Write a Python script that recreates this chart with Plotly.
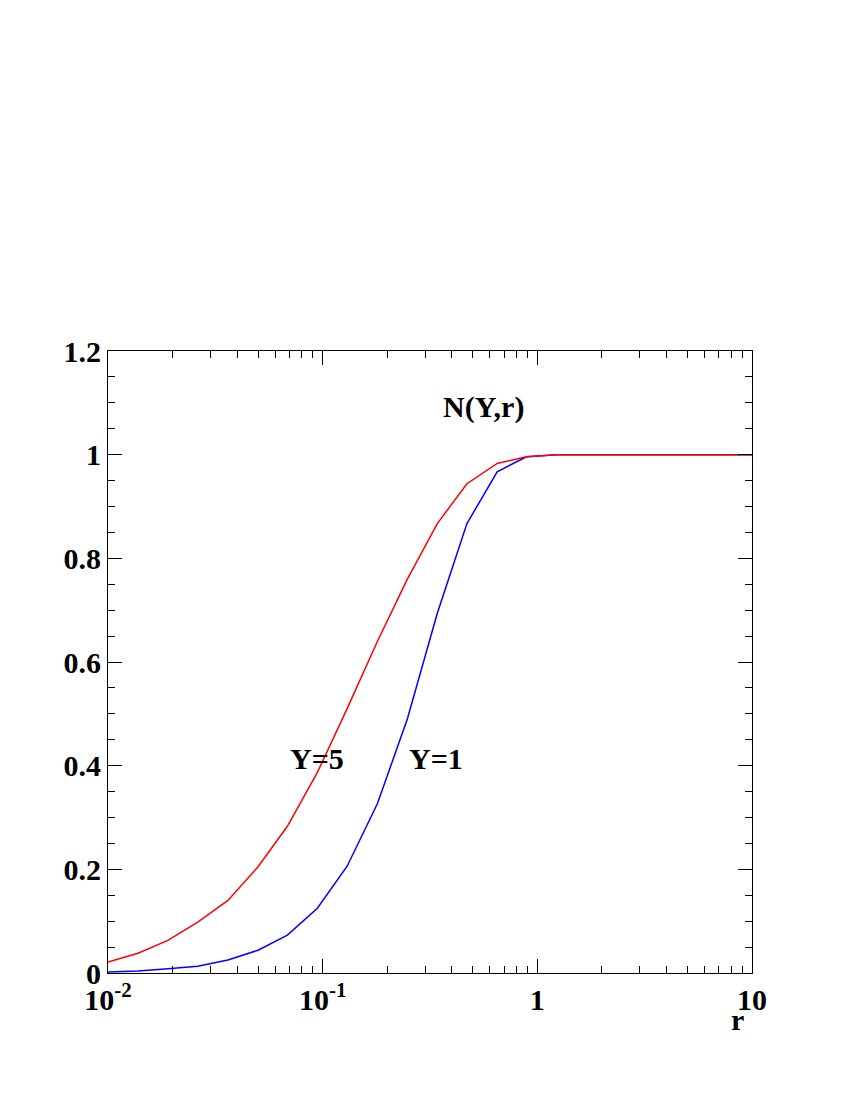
import plotly.graph_objects as go

r_vals = [0.01, 0.0138, 0.019, 0.0262, 0.0362, 0.05, 0.0685, 0.0945, 0.13, 0.18, 0.248, 0.342, 0.47, 0.65, 0.89, 1.23, 2, 4, 10]
n_y5 = [0.021, 0.038, 0.063, 0.098, 0.14, 0.205, 0.283, 0.387, 0.51, 0.64, 0.76, 0.867, 0.944, 0.983, 0.996, 1.0, 1.0, 1.0, 1.0]
n_y1 = [0.002, 0.004, 0.008, 0.013, 0.025, 0.044, 0.073, 0.125, 0.206, 0.327, 0.49, 0.694, 0.867, 0.967, 0.996, 1.0, 1.0, 1.0, 1.0]

font = dict(family="Liberation Serif", size=30, color="black")

fig = go.Figure()
fig.add_trace(go.Scatter(x=r_vals, y=n_y1, mode="lines", line=dict(color="blue", width=1.5)))
fig.add_trace(go.Scatter(x=r_vals, y=n_y5, mode="lines", line=dict(color="red", width=1.5)))

# positions in paper coords (plot area 107..752 x, 349..973 y)
fig.add_annotation(x=0.51, y=0.345, xref="paper", yref="paper", text="<b>Y=1</b>", showarrow=False, font=font)
fig.add_annotation(x=0.28, y=0.345, xref="paper", yref="paper", text="<b>Y=5</b>", showarrow=False, font=font)
fig.add_annotation(x=0.583, y=0.94, xref="paper", yref="paper", text="<b>N(Y,r)</b>", showarrow=False, font=font)
fig.add_annotation(x=0.99, y=-0.105, xref="paper", yref="paper", text="<b>r</b>", showarrow=False, font=font)

fig.update_xaxes(type="log", range=[-2, 1], showgrid=False, zeroline=False,
                 showline=True, linecolor="black", linewidth=1, mirror="allticks",
                 ticks="inside", ticklen=14, tickcolor="black",
                 tickvals=[0.01, 0.1, 1, 10],
                 ticktext=["<b>10<sup>-2</sup></b>", "<b>10<sup>-1</sup></b>", "<b>1</b>", "<b>10</b>"],
                 minor=dict(ticks="inside", ticklen=7, tickcolor="black",
                            tickvals=[m * 10 ** e for e in (-2, -1, 0) for m in range(2, 10)]),
                 tickfont=font)
fig.update_yaxes(range=[0, 1.2], showgrid=False, zeroline=False,
                 showline=True, linecolor="black", linewidth=1, mirror="allticks",
                 ticks="inside", ticklen=14, tickcolor="black",
                 tickvals=[0, 0.2, 0.4, 0.6, 0.8, 1, 1.2],
                 ticktext=["<b>0</b>", "<b>0.2</b>", "<b>0.4</b>", "<b>0.6</b>", "<b>0.8</b>", "<b>1</b>", "<b>1.2</b>"],
                 minor=dict(ticks="inside", ticklen=7, tickcolor="black", dtick=0.05),
                 tickfont=font)

fig.update_layout(width=850, height=1100, showlegend=False,
                  plot_bgcolor="white", paper_bgcolor="white",
                  margin=dict(l=100, r=106, t=343, b=135))
fig.write_html("out.html")
